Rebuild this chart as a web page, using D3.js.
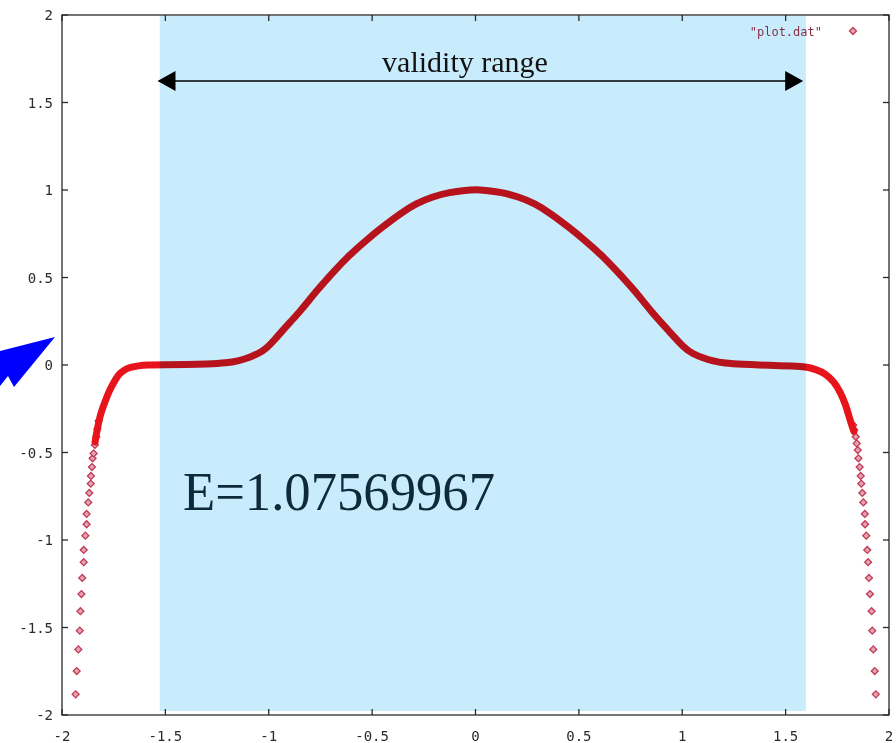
<!DOCTYPE html>
<html><head><meta charset="utf-8">
<script src="https://cdn.jsdelivr.net/npm/d3@7"></script>
<style>body{margin:0;background:#fff}svg{display:block}</style>
</head><body>
<svg id="c" width="896" height="743"></svg>
<script>
// ---- data ----
const xTicks = [-2, -1.5, -1, -0.5, 0, 0.5, 1, 1.5, 2];
const yTicks = [-2, -1.5, -1, -0.5, 0, 0.5, 1, 1.5, 2];
const xTickLabels = ["-2", "-1.5", "-1", "-0.5", "0", "0.5", "1", "1.5", "2"];
const yTickLabels = ["-2", "-1.5", "-1", "-0.5", "0", "0.5", "1", "1.5", "2"];

// dense part of "plot.dat" (points overlap into a thick band)
const curveX = [-1.840,-1.830,-1.816,-1.800,-1.784,-1.768,-1.752,-1.736,-1.720,-1.695,-1.671,-1.630,-1.591,-1.50,-1.40,-1.30,-1.20,-1.15,-1.10,-1.05,-1.011,-0.971,-0.931,-0.890,-0.850,-0.810,-0.770,-0.721,-0.689,-0.609,-0.528,-0.448,-0.367,-0.286,-0.206,-0.126,-0.045,0,
  0.045,0.126,0.206,0.286,0.367,0.448,0.528,0.609,0.689,0.770,0.850,0.931,1.011,1.05,1.10,1.15,1.20,1.30,1.372,1.45,1.533,1.598,1.646,1.694,1.734,1.767,1.791,1.807,1.820,1.830];
const curveY = [-0.440,-0.370,-0.290,-0.235,-0.185,-0.140,-0.105,-0.072,-0.047,-0.025,-0.013,-0.004,0.000,0.001,0.002,0.005,0.012,0.022,0.040,0.065,0.095,0.145,0.200,0.253,0.305,0.362,0.422,0.486,0.530,0.629,0.714,0.790,0.863,0.924,0.962,0.987,0.999,1.002,
  0.999,0.987,0.962,0.924,0.863,0.790,0.714,0.629,0.530,0.425,0.305,0.200,0.095,0.065,0.040,0.022,0.010,0.003,0.000,-0.003,-0.006,-0.010,-0.025,-0.050,-0.095,-0.160,-0.229,-0.295,-0.345,-0.380];

// sparse tail points (visible as separate diamonds)
const leftTailX = [-1.934,-1.929,-1.921,-1.914,-1.911,-1.906,-1.902,-1.895,-1.895,-1.887,-1.881,-1.881,-1.873,-1.868,-1.861,-1.860,-1.855,-1.852,-1.847,-1.841,-1.834,-1.829,-1.823];
const leftTailY = [-1.882,-1.749,-1.625,-1.518,-1.407,-1.309,-1.217,-1.127,-1.057,-0.975,-0.910,-0.851,-0.785,-0.731,-0.678,-0.634,-0.583,-0.533,-0.505,-0.457,-0.411,-0.366,-0.320];
const rightTailX = [1.936,1.931,1.924,1.919,1.916,1.908,1.903,1.899,1.895,1.890,1.884,1.883,1.876,1.871,1.866,1.863,1.858,1.852,1.849,1.844,1.839,1.832,1.827];
const rightTailY = [-1.882,-1.749,-1.625,-1.518,-1.407,-1.309,-1.217,-1.127,-1.057,-0.975,-0.910,-0.851,-0.785,-0.731,-0.678,-0.634,-0.583,-0.533,-0.486,-0.448,-0.410,-0.371,-0.343];

const validityRange = [-1.527, 1.598];
const arrowRange = [-1.538, 1.585];
const seriesName = '"plot.dat"';
const rangeLabel = "validity range";
const energyLabel = "E=1.07569967";

// ---- layout ----
const svg = d3.select("#c");
const x = d3.scaleLinear().domain([-2, 2]).range([62, 889]);
const y = d3.scaleLinear().domain([-2, 2]).range([715, 15]);
const tickFont = "'DejaVu Sans Mono', monospace";

// tail diamonds
const diamond = d3.symbol().type(d3.symbolSquare).size(24);
const tails = leftTailX.map((d, i) => [d, leftTailY[i]]).concat(rightTailX.map((d, i) => [d, rightTailY[i]]));
svg.append("g").selectAll("path").data(tails).join("path")
  .attr("d", diamond)
  .attr("transform", d => `translate(${x(d[0])},${y(d[1])}) rotate(45)`)
  .attr("fill", "#e4a4b4").attr("stroke", "#c03c54").attr("stroke-width", 1.3);

// curve (thick band)
const pts = curveX.map((d, i) => [d, curveY[i]]);
const line = d3.line().x(d => x(d[0])).y(d => y(d[1])).curve(d3.curveBasis);
svg.append("path").attr("d", line(pts)).attr("fill", "none")
  .attr("stroke", "#e8141c").attr("stroke-width", 7).attr("stroke-linejoin", "round").attr("stroke-linecap", "round");

// validity region overlay (multiplied over the curve)
svg.append("rect")
  .attr("x", x(validityRange[0])).attr("y", 16)
  .attr("width", x(validityRange[1]) - x(validityRange[0])).attr("height", 711 - 16)
  .attr("fill", "#c8ecfc").style("mix-blend-mode", "multiply");

// double arrow
const ay = 81;
const ax0 = x(arrowRange[0]), ax1 = x(arrowRange[1]);
svg.append("line").attr("x1", ax0 + 10).attr("x2", ax1 - 10).attr("y1", ay).attr("y2", ay)
  .attr("stroke", "#000").attr("stroke-width", 1.5);
svg.append("path").attr("d", `M${ax0},${ay} L${ax0 + 18},${ay - 10} L${ax0 + 18},${ay + 10} Z`).attr("fill", "#000");
svg.append("path").attr("d", `M${ax1},${ay} L${ax1 - 18},${ay - 10} L${ax1 - 18},${ay + 10} Z`).attr("fill", "#000");
svg.append("text").attr("x", 465).attr("y", 72).attr("text-anchor", "middle")
  .attr("font-family", "'Liberation Serif', 'Times New Roman', serif").attr("font-size", 30)
  .attr("fill", "#111").text(rangeLabel);

// energy label
svg.append("text").attr("x", 183).attr("y", 510)
  .attr("font-family", "'Liberation Serif', 'Times New Roman', serif").attr("font-size", 54)
  .attr("textLength", 312).attr("lengthAdjust", "spacingAndGlyphs")
  .attr("fill", "#0e2a3a").text(energyLabel);

// legend
svg.append("text").attr("x", 822).attr("y", 36).attr("text-anchor", "end")
  .attr("font-family", tickFont).attr("font-size", 12).attr("fill", "#8a3048").text(seriesName);
svg.append("path").attr("d", diamond).attr("transform", "translate(853,31) rotate(45)")
  .attr("fill", "#e4a4b4").attr("stroke", "#c03c54").attr("stroke-width", 1.3);

// blue pointer arrow at left
svg.append("path").attr("d", "M55,337 L14,387 L8,376 L0,386 L0,351 Z").attr("fill", "#0000ff");

// frame & ticks (gnuplot style, mirrored inward ticks)
const g = svg.append("g").attr("stroke", "#2a2a2a").attr("stroke-width", 1.3);
g.append("rect").attr("x", 62).attr("y", 15).attr("width", 889 - 62).attr("height", 700).attr("fill", "none");
xTicks.forEach(t => {
  g.append("line").attr("x1", x(t)).attr("x2", x(t)).attr("y1", 715).attr("y2", 709);
  g.append("line").attr("x1", x(t)).attr("x2", x(t)).attr("y1", 15).attr("y2", 21);
});
yTicks.forEach(t => {
  g.append("line").attr("x1", 62).attr("x2", 68).attr("y1", y(t)).attr("y2", y(t));
  g.append("line").attr("x1", 889).attr("x2", 883).attr("y1", y(t)).attr("y2", y(t));
});
svg.append("g").selectAll("text").data(xTicks).join("text")
  .attr("x", d => x(d)).attr("y", 741).attr("text-anchor", "middle")
  .attr("font-family", tickFont).attr("font-size", 14).attr("fill", "#2a2a2a")
  .text((d, i) => xTickLabels[i]);
svg.append("g").selectAll("text").data(yTicks).join("text")
  .attr("x", 53).attr("y", d => y(d) + 5).attr("text-anchor", "end")
  .attr("font-family", tickFont).attr("font-size", 14).attr("fill", "#2a2a2a")
  .text((d, i) => yTickLabels[i]);
</script>
</body></html>
